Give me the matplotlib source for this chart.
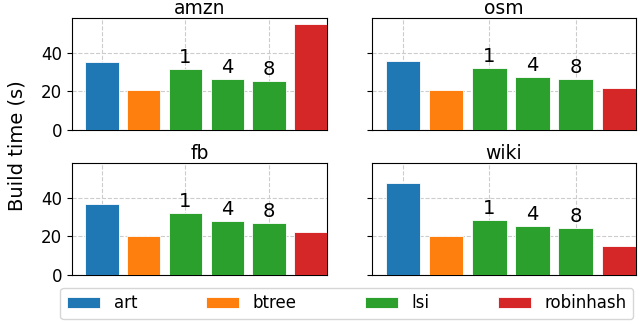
import matplotlib.pyplot as plt
import numpy as np

datasets = ['amzn', 'osm', 'fb', 'wiki']
methods = ['art', 'btree', 'lsi', 'lsi', 'lsi', 'robinhash']
lsi_threads = ['1', '4', '8']

art = [34.9, 35.7, 37.0, 47.4]
btree = [20.8, 20.7, 20.3, 20.3]
lsi_1 = [31.3, 32.0, 31.9, 28.6]
lsi_4 = [26.4, 27.2, 27.9, 25.2]
lsi_8 = [25.4, 26.2, 26.9, 24.5]
robinhash = [55.0, 21.9, 22.1, 15.3]

colors = ['tab:blue', 'tab:orange', 'tab:green', 'tab:green', 'tab:green', 'tab:red']

fig = plt.figure(figsize=(6.4, 3.24), dpi=100)
positions = [
    [0.1125, 0.599, 0.399, 0.346],
    [0.581, 0.599, 0.413, 0.346],
    [0.1125, 0.151, 0.399, 0.346],
    [0.581, 0.151, 0.413, 0.346],
]

handles = {}
for i, name in enumerate(datasets):
    ax = fig.add_axes(positions[i])
    vals = [art[i], btree[i], lsi_1[i], lsi_4[i], lsi_8[i], robinhash[i]]
    x = np.arange(len(vals))
    bars = ax.bar(x, vals, width=0.8, color=colors, edgecolor='white', linewidth=0.6, zorder=3)
    for j, m in enumerate(methods):
        handles.setdefault(m, bars[j])
    for k, b in enumerate(bars[2:5]):
        ax.text(b.get_x() + b.get_width() / 2, b.get_height() + 1, lsi_threads[k],
                ha='center', va='bottom', fontsize=14)
    ax.set_title(name, fontsize=13.5, pad=0.5)
    ax.set_ylim(0, 58)
    ax.set_xlim(-0.72, 5.4)
    ax.set_yticks([0, 20, 40])
    ax.set_xticks([0, 2, 4])
    ax.tick_params(axis='x', length=0, labelbottom=False)
    ax.tick_params(axis='y', labelsize=12)
    if i % 2 == 1:
        ax.set_yticklabels([])
    ax.grid(True, linestyle='--', color='#cccccc', linewidth=0.8, zorder=0)

fig.text(0.012, 0.55, 'Build time (s)', rotation=90, ha='left', va='center', fontsize=14)

fig.legend([handles[m] for m in ['art', 'btree', 'lsi', 'robinhash']],
           ['art', 'btree', 'lsi', 'robinhash'],
           loc='lower left', bbox_to_anchor=(0.089, 0.005, 0.906, 0.1), mode='expand',
           ncol=4, fontsize=12, handlelength=2.0, borderaxespad=0.2)

plt.savefig('out.png')
